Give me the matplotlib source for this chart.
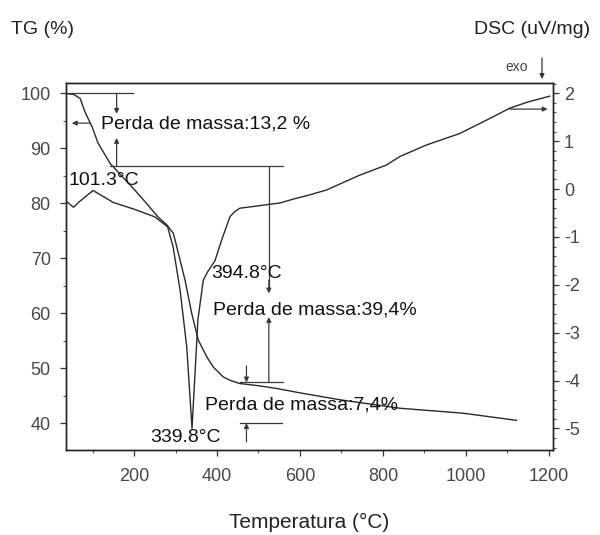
import matplotlib
matplotlib.use("Agg")
import matplotlib.pyplot as plt
from matplotlib.ticker import MultipleLocator

plt.rcParams['font.family'] = ['Liberation Sans', 'DejaVu Sans']
plt.rcParams['axes.unicode_minus'] = False

# TG curve (temperature °C, mass %)
tg_temp = [36, 55, 70, 82, 99, 113, 142, 170, 202, 230, 258, 280, 295, 303, 323, 339,
           355, 375, 391, 415, 431, 455, 500, 544, 600, 700, 841, 993, 1122]
tg_mass = [100.0, 99.8, 99.1, 96.6, 93.9, 91.0, 87.3, 85.0, 82.4, 80.0, 77.5, 76.0, 74.5, 72.1,
           66.0, 60.0, 55.1, 52.1, 50.2, 48.4, 47.8, 47.2, 46.8, 46.3, 45.5, 44.2, 42.7, 41.8, 40.5]

# DSC curve (temperature °C, uV/mg)
dsc_temp = [36, 54, 70, 101.3, 150, 200, 250, 281, 294, 311, 327, 339.8, 354, 367, 378, 395,
            411, 420, 431, 443, 455, 500, 552, 584, 620, 664, 700, 744, 808, 841, 905, 985,
            1050, 1106, 1150, 1202]
dsc_val = [-0.25, -0.38, -0.25, -0.03, -0.28, -0.42, -0.58, -0.79, -1.2, -2.11, -3.29, -5.0,
           -2.73, -1.90, -1.72, -1.50, -1.07, -0.85, -0.58, -0.47, -0.40, -0.35, -0.29, -0.21,
           -0.13, -0.02, 0.12, 0.29, 0.50, 0.68, 0.92, 1.16, 1.44, 1.69, 1.82, 1.94]

x_ticks = [200, 400, 600, 800, 1000, 1200]
tg_ticks = [40, 50, 60, 70, 80, 90, 100]
dsc_ticks = [-5, -4, -3, -2, -1, 0, 1, 2]

# mass-loss levels and labels
levels = [100.0, 86.8, 47.4, 40.0]
loss_labels = ["Perda de massa:13,2 %", "Perda de massa:39,4%", "Perda de massa:7,4%"]
peak_labels = ["101.3°C", "339.8°C", "394.8°C"]

fig = plt.figure(figsize=(6, 5.35), dpi=100)
ax = fig.add_axes([66/600, 1-450/535, (553-66)/600, (450-83)/535])
ax2 = ax.twinx()

curve_c = '#2a2a2a'
ann_c = '#3a3a3a'
ax.plot(tg_temp, tg_mass, color=curve_c, lw=1.0)
ax2.plot(dsc_temp, dsc_val, color=curve_c, lw=1.0)

ax.set_xlim(36, 1210)
ax.set_ylim(35.1, 101.9)
ax2.set_ylim(-5.45, 2.215)

ax.set_xticks(x_ticks)
ax.xaxis.set_minor_locator(MultipleLocator(100))
ax.set_yticks(tg_ticks)
ax.yaxis.set_minor_locator(MultipleLocator(5))
ax2.set_yticks(dsc_ticks)
ax2.set_yticklabels([str(v) for v in dsc_ticks])
ax2.yaxis.set_minor_locator(MultipleLocator(0.2))

tick_c = '#484848'
for a in (ax, ax2):
    for s in a.spines.values():
        s.set_linewidth(1.0)
        s.set_color('#222222')
    a.tick_params(which='major', direction='out', length=4, width=0.9, color='#333333',
                  labelsize=13, labelcolor=tick_c)
    a.tick_params(which='minor', direction='out', length=2.5, width=0.8, color='#555555')
ax.tick_params(axis='x', pad=9)
ax.tick_params(axis='y', pad=7)
ax2.tick_params(axis='y', pad=4)

# annotation helpers
def hline(y, x0, x1):
    ax.plot([x0, x1], [y, y], color=ann_c, lw=0.9)

def arrow(x0, y0, x1, y1, a=ax):
    a.annotate('', xy=(x1, y1), xytext=(x0, y0),
               arrowprops=dict(arrowstyle='-|>', color=ann_c, lw=0.9,
                               mutation_scale=7, shrinkA=0, shrinkB=0))

# 13.2 % step
hline(levels[0], 36, 197)
hline(levels[1], 142, 559)
arrow(158, levels[0], 158, 96.3)
arrow(158, levels[1], 158, 91.9)
arrow(94, 94.6, 50, 94.6)
# 39.4 % step
ax.plot([525, 525], [levels[1], 64.5], color=ann_c, lw=0.9)
arrow(525, 66.0, 525, 63.6)
arrow(525, levels[2], 525, 59.3)
hline(levels[2], 455, 559)
# 7.4 % step
arrow(471, 50.4, 471, levels[2])
arrow(471, 36.6, 471, levels[3])
hline(levels[3], 455, 556)
# DSC axis arrow
arrow(1106, 1.67, 1197, 1.67, a=ax2)

tfs = 14
ax.text(120, 94.4, loss_labels[0], fontsize=tfs, va='center', ha='left', color='#111111')
ax.text(390, 60.6, loss_labels[1], fontsize=tfs, va='center', ha='left', color='#111111')
ax.text(371, 43.3, loss_labels[2], fontsize=tfs, va='center', ha='left', color='#111111')
ax.text(41, 84.2, peak_labels[0], fontsize=tfs, va='center', ha='left', color='#111111')
ax.text(238, 37.3, peak_labels[1], fontsize=tfs, va='center', ha='left', color='#111111')
ax.text(387, 67.3, peak_labels[2], fontsize=tfs, va='center', ha='left', color='#111111')

# titles
fig.text(11/600, 1-30/535, "TG (%)", fontsize=14, ha='left', va='center', color='#222222')
fig.text(590/600, 1-30/535, "DSC (uV/mg)", fontsize=14, ha='right', va='center', color='#222222')
fig.text(309/600, 1-522/535, "Temperatura (°C)", fontsize=15, ha='center', va='center', color='#222222')
fig.text(517/600, 1-67/535, "exo", fontsize=10, ha='center', va='center', color='#444444')
fig.add_artist(matplotlib.patches.FancyArrowPatch((542/600, 1-58/535), (542/600, 1-79/535),
               transform=fig.transFigure, arrowstyle='-|>', mutation_scale=7,
               color='#333333', lw=0.9, shrinkA=0, shrinkB=0))

fig.savefig("out.png", dpi=100, facecolor='white')
